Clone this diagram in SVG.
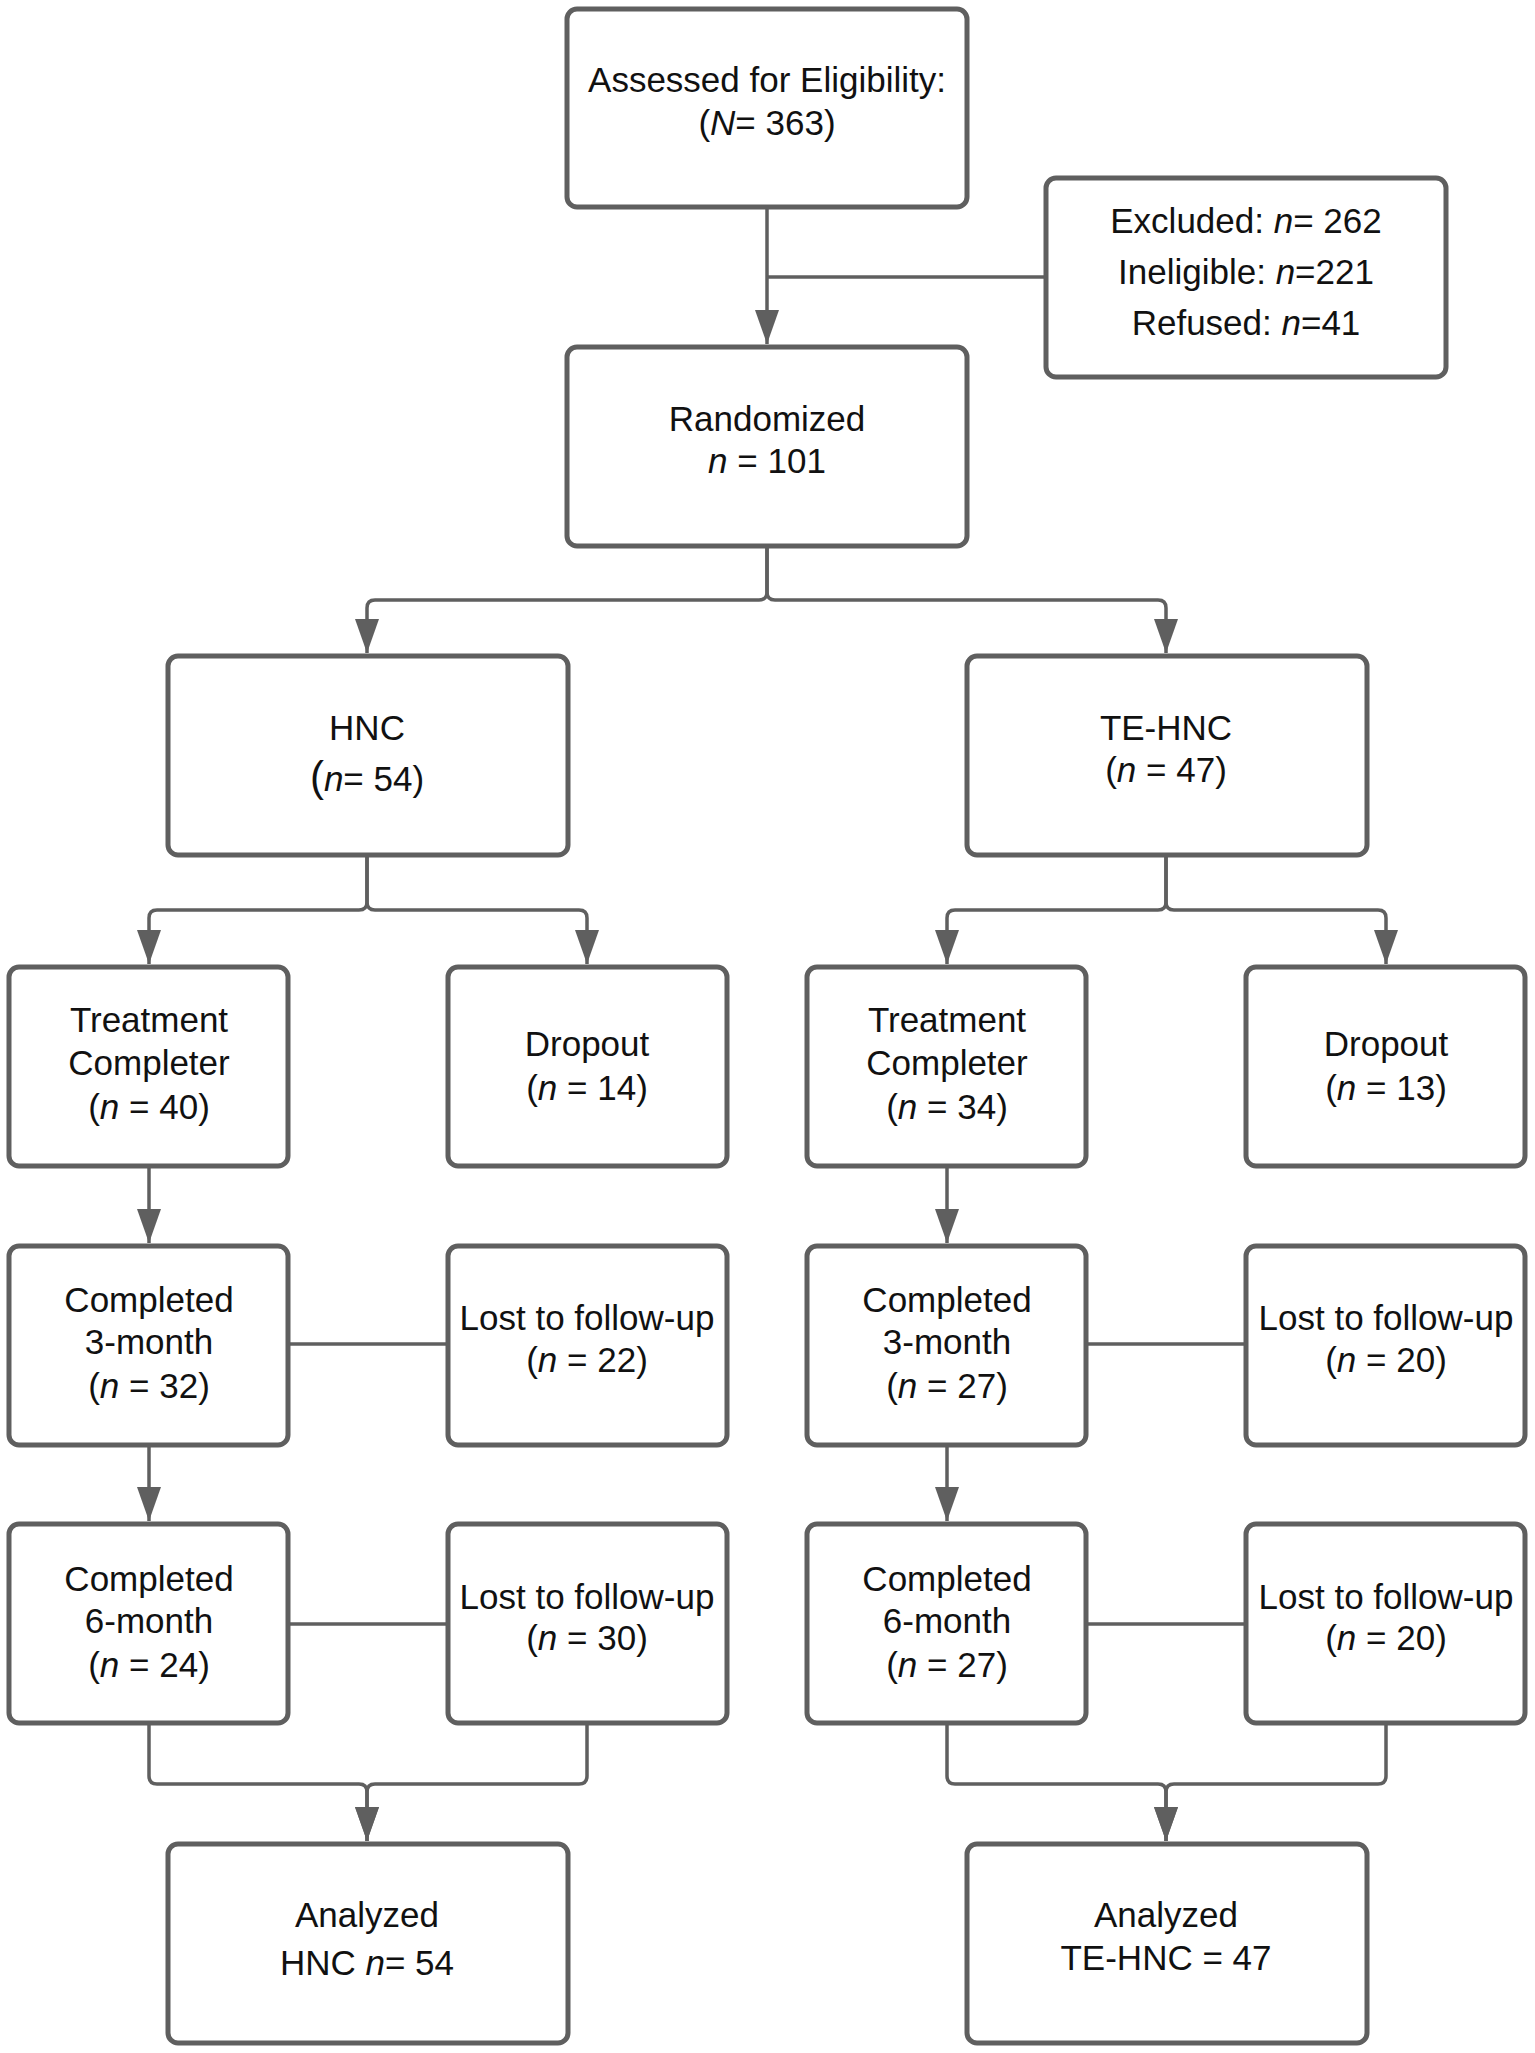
<svg xmlns="http://www.w3.org/2000/svg" width="1535" height="2053" viewBox="0 0 1535 2053">
<style>
.box{fill:#fff;stroke:#5f5f5f;stroke-width:5}
.c{fill:none;stroke:#5f5f5f;stroke-width:3.5}
text{font-family:"Liberation Sans",Arial,sans-serif;font-size:35px;fill:#111;text-anchor:middle}
.i{font-style:italic}
</style>
<defs>
<marker id="ah" markerUnits="userSpaceOnUse" markerWidth="34" markerHeight="24" refX="34" refY="12" orient="auto" viewBox="0 0 34 24">
<path d="M0,0 L34,12 L0,24 z" fill="#5f5f5f"/>
</marker>
</defs>
<rect width="1535" height="2053" fill="#fff"/>
<g id="connectors">
<path class="c" d="M767,207 V344" marker-end="url(#ah)"/>
<path class="c" d="M1046,277 H767"/>
<path class="c" d="M767,546 V592 Q767,600 759,600 H375 Q367,600 367,608 V653" marker-end="url(#ah)"/>
<path class="c" d="M767,546 V592 Q767,600 775,600 H1158 Q1166,600 1166,608 V653" marker-end="url(#ah)"/>
<path class="c" d="M367,857 V902 Q367,910 359,910 H157 Q149,910 149,918 V964" marker-end="url(#ah)"/>
<path class="c" d="M367,857 V902 Q367,910 375,910 H579 Q587,910 587,918 V964" marker-end="url(#ah)"/>
<path class="c" d="M1166,857 V902 Q1166,910 1158,910 H955 Q947,910 947,918 V964" marker-end="url(#ah)"/>
<path class="c" d="M1166,857 V902 Q1166,910 1174,910 H1378 Q1386,910 1386,918 V964" marker-end="url(#ah)"/>
<path class="c" d="M149,1166 V1243" marker-end="url(#ah)"/>
<path class="c" d="M947,1166 V1243" marker-end="url(#ah)"/>
<path class="c" d="M149,1445 V1521" marker-end="url(#ah)"/>
<path class="c" d="M947,1445 V1521" marker-end="url(#ah)"/>
<path class="c" d="M288,1344 H448"/>
<path class="c" d="M1086,1344 H1246"/>
<path class="c" d="M288,1624 H448"/>
<path class="c" d="M1086,1624 H1246"/>
<path class="c" d="M149,1724 V1776 Q149,1784 157,1784 H359 Q367,1784 367,1792 V1841" marker-end="url(#ah)"/>
<path class="c" d="M587,1724 V1776 Q587,1784 579,1784 H375 Q367,1784 367,1792 V1841" marker-end="url(#ah)"/>
<path class="c" d="M947,1724 V1776 Q947,1784 955,1784 H1158 Q1166,1784 1166,1792 V1841" marker-end="url(#ah)"/>
<path class="c" d="M1386,1724 V1776 Q1386,1784 1378,1784 H1174 Q1166,1784 1166,1792 V1841" marker-end="url(#ah)"/>
</g>
<g id="assessed"><rect class="box" x="567" y="9" width="400" height="198" rx="10"/>
<text x="767" y="92">Assessed for Eligibility:</text>
<text x="767" y="135">(<tspan class="i">N</tspan>= 363)</text></g>
<g id="excluded"><rect class="box" x="1046" y="178" width="400" height="199" rx="10"/>
<text x="1246" y="233">Excluded: <tspan class="i">n</tspan>= 262</text>
<text x="1246" y="284">Ineligible: <tspan class="i">n</tspan>=221</text>
<text x="1246" y="335">Refused: <tspan class="i">n</tspan>=41</text></g>
<g id="randomized"><rect class="box" x="567" y="347" width="400" height="199" rx="10"/>
<text x="767" y="431">Randomized</text>
<text x="767" y="473"><tspan class="i">n</tspan> = 101</text></g>
<g id="hnc"><rect class="box" x="168" y="656" width="400" height="199" rx="10"/>
<text x="367" y="740">HNC</text>
<text x="367" y="791"><tspan font-size="42">(</tspan><tspan class="i">n</tspan>= 54)</text></g>
<g id="tehnc"><rect class="box" x="967" y="656" width="400" height="199" rx="10"/>
<text x="1166" y="740">TE-HNC</text>
<text x="1166" y="782">(<tspan class="i">n</tspan> = 47)</text></g>
<g id="hnc-completer"><rect class="box" x="9" y="967" width="279" height="199" rx="10"/>
<text x="149" y="1032">Treatment</text>
<text x="149" y="1075">Completer</text>
<text x="149" y="1119">(<tspan class="i">n</tspan> = 40)</text></g>
<g id="hnc-dropout"><rect class="box" x="448" y="967" width="279" height="199" rx="10"/>
<text x="587" y="1056">Dropout</text>
<text x="587" y="1100">(<tspan class="i">n</tspan> = 14)</text></g>
<g id="te-completer"><rect class="box" x="807" y="967" width="279" height="199" rx="10"/>
<text x="947" y="1032">Treatment</text>
<text x="947" y="1075">Completer</text>
<text x="947" y="1119">(<tspan class="i">n</tspan> = 34)</text></g>
<g id="te-dropout"><rect class="box" x="1246" y="967" width="279" height="199" rx="10"/>
<text x="1386" y="1056">Dropout</text>
<text x="1386" y="1100">(<tspan class="i">n</tspan> = 13)</text></g>
<g id="hnc-3m"><rect class="box" x="9" y="1246" width="279" height="199" rx="10"/>
<text x="149" y="1312">Completed</text>
<text x="149" y="1354">3-month</text>
<text x="149" y="1398">(<tspan class="i">n</tspan> = 32)</text></g>
<g id="hnc-lost3"><rect class="box" x="448" y="1246" width="279" height="199" rx="10"/>
<text x="587" y="1330">Lost to follow-up</text>
<text x="587" y="1372">(<tspan class="i">n</tspan> = 22)</text></g>
<g id="te-3m"><rect class="box" x="807" y="1246" width="279" height="199" rx="10"/>
<text x="947" y="1312">Completed</text>
<text x="947" y="1354">3-month</text>
<text x="947" y="1398">(<tspan class="i">n</tspan> = 27)</text></g>
<g id="te-lost3"><rect class="box" x="1246" y="1246" width="279" height="199" rx="10"/>
<text x="1386" y="1330">Lost to follow-up</text>
<text x="1386" y="1372">(<tspan class="i">n</tspan> = 20)</text></g>
<g id="hnc-6m"><rect class="box" x="9" y="1524" width="279" height="199" rx="10"/>
<text x="149" y="1591">Completed</text>
<text x="149" y="1633">6-month</text>
<text x="149" y="1677">(<tspan class="i">n</tspan> = 24)</text></g>
<g id="hnc-lost6"><rect class="box" x="448" y="1524" width="279" height="199" rx="10"/>
<text x="587" y="1609">Lost to follow-up</text>
<text x="587" y="1650">(<tspan class="i">n</tspan> = 30)</text></g>
<g id="te-6m"><rect class="box" x="807" y="1524" width="279" height="199" rx="10"/>
<text x="947" y="1591">Completed</text>
<text x="947" y="1633">6-month</text>
<text x="947" y="1677">(<tspan class="i">n</tspan> = 27)</text></g>
<g id="te-lost6"><rect class="box" x="1246" y="1524" width="279" height="199" rx="10"/>
<text x="1386" y="1609">Lost to follow-up</text>
<text x="1386" y="1650">(<tspan class="i">n</tspan> = 20)</text></g>
<g id="hnc-analyzed"><rect class="box" x="168" y="1844" width="400" height="199" rx="10"/>
<text x="367" y="1927">Analyzed</text>
<text x="367" y="1975">HNC <tspan class="i">n</tspan>= 54</text></g>
<g id="te-analyzed"><rect class="box" x="967" y="1844" width="400" height="199" rx="10"/>
<text x="1166" y="1927">Analyzed</text>
<text x="1166" y="1970">TE-HNC = 47</text></g>
</svg>
